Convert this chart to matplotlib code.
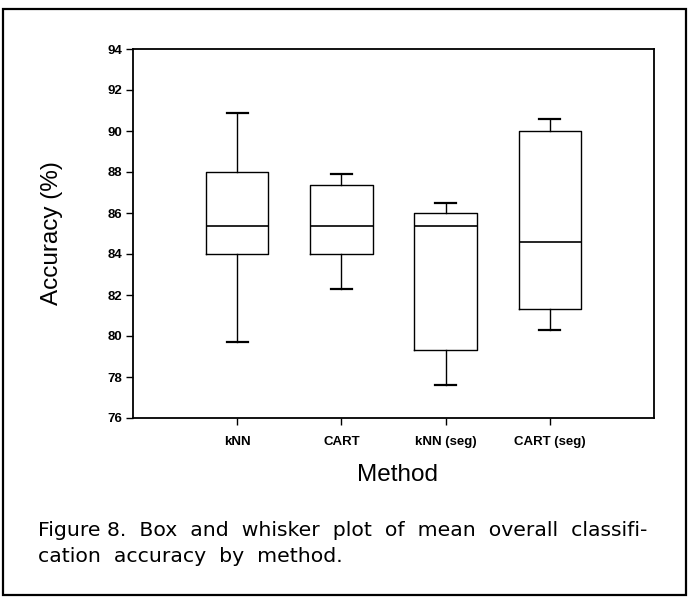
import matplotlib
matplotlib.use("Agg")
import matplotlib.pyplot as plt
from matplotlib.patches import Rectangle

plt.rcParams['font.family'] = ['Liberation Sans', 'DejaVu Sans']

# values
methods = ["kNN", "CART", "kNN (seg)", "CART (seg)"]
whisker_low = [79.7, 82.3, 77.6, 80.3]
q1 = [84.0, 84.0, 79.3, 81.3]
median = [85.35, 85.35, 85.35, 84.6]
q3 = [88.0, 87.35, 86.0, 90.0]
whisker_high = [90.9, 87.9, 86.5, 90.6]

caption = ["Figure 8.  Box  and  whisker  plot  of  mean  overall  classifi-",
           "cation  accuracy  by  method."]

stats = []
for i in range(len(methods)):
    stats.append({"label": methods[i], "whislo": whisker_low[i], "q1": q1[i],
                  "med": median[i], "q3": q3[i], "whishi": whisker_high[i],
                  "fliers": []})

fig = plt.figure(figsize=(6.89, 5.97), dpi=100)
ax = fig.add_axes([133/689, 1-418/597, 521/689, 369/597])

lw = 1.0
ax.bxp(stats, positions=[1, 2, 3, 4], widths=0.6, capwidths=0.2,
       showfliers=False,
       boxprops=dict(color="black", linewidth=lw),
       whiskerprops=dict(color="black", linewidth=lw),
       capprops=dict(color="black", linewidth=1.6),
       medianprops=dict(color="black", linewidth=1.2))

ax.set_xlim(0, 5)
ax.set_ylim(76, 94)
ax.set_yticks(range(76, 95, 2))
ax.set_xticks([1, 2, 3, 4])
ax.set_xticklabels(methods)
ax.tick_params(direction="out", length=5, width=1, labelsize=9.5, colors="black", pad=3)
ax.tick_params(axis="x", pad=8)
for lab in ax.get_xticklabels() + ax.get_yticklabels():
    lab.set_fontweight("bold")
for s in ax.spines.values():
    s.set_linewidth(1.3)

ax.set_ylabel("Accuracy (%)", fontsize=17.5)
ax.set_xlabel("Method", fontsize=17.5)
ax.yaxis.set_label_coords(-0.135, 0.5)
ax.xaxis.set_label_coords(0.508, -0.125)

fig.text(38/689, 1-530/597, caption[0],
         fontsize=14.7, va="center", ha="left", family=["DejaVu Sans"])
fig.text(38/689, 1-556/597, caption[1],
         fontsize=14.7, va="center", ha="left", family=["DejaVu Sans"])

# outer frame of the scanned figure
fig.patches.append(Rectangle((3/689, 1-595/597), 683/689, 586/597,
                             transform=fig.transFigure, fill=False,
                             edgecolor="black", linewidth=1.6))

fig.savefig("out.png", dpi=100)
